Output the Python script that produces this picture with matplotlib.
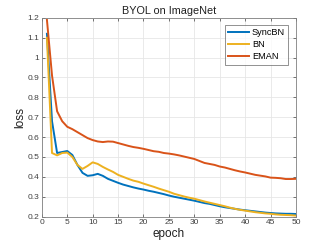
import numpy as np
import matplotlib.pyplot as plt

# Data (loss per epoch, epochs 1..50)
epochs = np.arange(1, 51)

syncbn = [1.12, 0.68, 0.52, 0.525, 0.53, 0.51, 0.46, 0.42, 0.405, 0.408,
          0.415, 0.405, 0.39, 0.38, 0.37, 0.361, 0.354, 0.347, 0.341, 0.336,
          0.330, 0.325, 0.319, 0.313, 0.306, 0.300, 0.295, 0.290, 0.285, 0.280,
          0.274, 0.268, 0.264, 0.258, 0.252, 0.247, 0.243, 0.239, 0.235, 0.232,
          0.229, 0.226, 0.223, 0.220, 0.218, 0.216, 0.215, 0.214, 0.214, 0.213]

bn = [1.10, 0.52, 0.508, 0.52, 0.522, 0.50, 0.46, 0.44, 0.455, 0.473,
      0.465, 0.45, 0.437, 0.425, 0.41, 0.40, 0.39, 0.381, 0.375, 0.366,
      0.358, 0.350, 0.341, 0.333, 0.325, 0.315, 0.308, 0.301, 0.295, 0.290,
      0.283, 0.276, 0.270, 0.264, 0.258, 0.252, 0.245, 0.239, 0.234, 0.230,
      0.226, 0.222, 0.219, 0.216, 0.214, 0.211, 0.209, 0.208, 0.207, 0.205]

eman = [1.19, 0.91, 0.73, 0.68, 0.652, 0.64, 0.625, 0.61, 0.595, 0.585,
        0.578, 0.575, 0.578, 0.577, 0.57, 0.563, 0.556, 0.55, 0.546, 0.541,
        0.535, 0.529, 0.526, 0.52, 0.517, 0.513, 0.508, 0.502, 0.496, 0.49,
        0.48, 0.47, 0.465, 0.46, 0.452, 0.447, 0.44, 0.433, 0.427, 0.422,
        0.416, 0.41, 0.406, 0.402, 0.396, 0.395, 0.393, 0.389, 0.389, 0.39]

plt.rcParams['font.family'] = ['Liberation Sans', 'DejaVu Sans']

fig = plt.figure(figsize=(3.27, 2.45), dpi=100)
ax = fig.add_axes([0.128, 0.116, 0.777, 0.811])

ax.plot(epochs, syncbn, color="#0072BD", linewidth=1.4, label="SyncBN")
ax.plot(epochs, bn, color="#EDB120", linewidth=1.4, label="BN")
ax.plot(epochs, eman, color="#D95319", linewidth=1.4, label="EMAN")

ax.set_xlim(0, 50)
ax.set_ylim(0.2, 1.2)
ax.set_xticks(np.arange(0, 51, 5))
ax.set_yticks(np.arange(0.2, 1.21, 0.1))
ax.set_yticklabels(["0.2", "0.3", "0.4", "0.5", "0.6", "0.7", "0.8", "0.9", "1", "1.1", "1.2"])

ax.grid(True, color="#e6e6e6", linewidth=0.6)
ax.set_axisbelow(True)
ax.tick_params(direction="in", top=True, right=True, length=2.5, width=0.5,
               labelsize=6, colors="#404040", pad=2)
for s in ax.spines.values():
    s.set_color("#808080")
    s.set_linewidth(0.6)

ax.set_title("BYOL on ImageNet", fontsize=7.8, color="#202020", pad=3)
ax.set_xlabel("epoch", fontsize=8.5, color="#202020", labelpad=1)
ax.set_ylabel("loss", fontsize=8.5, color="#202020", labelpad=1)

leg = ax.legend(loc="upper right", fontsize=6.6, frameon=True, fancybox=False,
                handlelength=2.3, handletextpad=0.3, borderpad=0.35,
                labelspacing=0.35, bbox_to_anchor=(0.97, 0.965),
                borderaxespad=0.0)
leg.get_frame().set_edgecolor("#404040")
leg.get_frame().set_linewidth(0.5)

fig.savefig("out.png", dpi=100)
